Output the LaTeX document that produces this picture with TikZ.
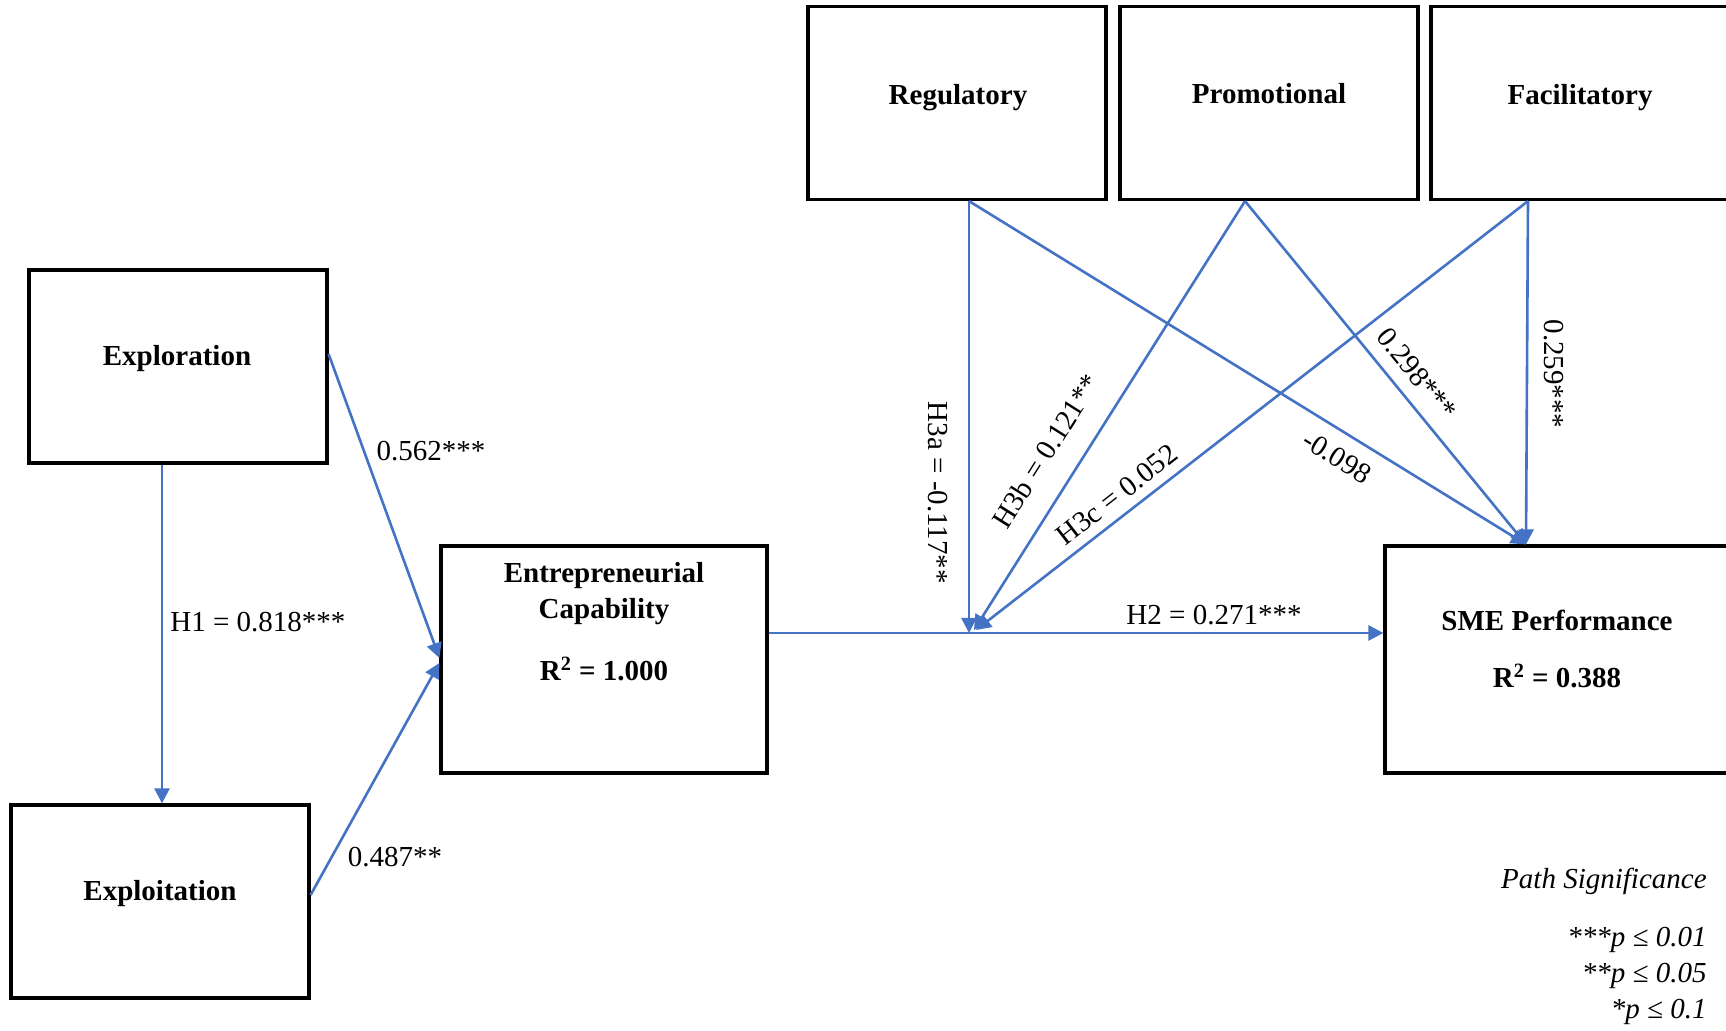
\documentclass[tikz,border=0pt]{standalone}
\usepackage{fontspec}
\setmainfont{Liberation Serif}
\usetikzlibrary{arrows.meta,calc}
\definecolor{pathblue}{HTML}{4472C4}
\begin{document}
\begin{tikzpicture}[x=0.5pt,y=-0.5pt,
  box/.style={draw=black,line width=1.6pt,rectangle,inner sep=0pt,minimum width=149pt,minimum height=96.5pt},
  boxtext/.style={font=\fontsize{14.5}{18}\selectfont\bfseries,align=center,inner sep=0pt},
  link/.style={draw=pathblue,line width=1.3pt,-{Triangle[length=7.5pt,width=7.5pt]}},
  coef/.style={font=\fontsize{14.5}{17}\selectfont,inner sep=0pt},
  legend/.style={font=\fontsize{14.5}{17}\selectfont\itshape,inner sep=0pt,anchor=base east}
]
\useasboundingbox (0,0) rectangle (1726,1031);
\clip (0,0) rectangle (1726,1031);

% constructs
\node[box] (expl) at (178,366.5) {};
\node[box] (expt) at (160,901.5) {};
\node[box,minimum width=163pt,minimum height=113.5pt] (ec) at (604,659.5) {};
\node[box,minimum width=172pt,minimum height=113.5pt] (sme) at (1557,659.5) {};
\node[box] (reg) at (957,103) {};
\node[box] (pro) at (1269,103) {};
\node[box] (fac) at (1580,103) {};

\node[boxtext] (explt) at (177,359) {Exploration};
\node[boxtext] (exptt) at (160,894) {Exploitation};
\node[boxtext] (ect) at (604,594) {Entrepreneurial\\Capability};
\node[boxtext] (ecr) at (604,669) {R\textsuperscript{2} = 1.000};
\node[boxtext] (smet) at (1557,620) {SME Performance};
\node[boxtext] (smer) at (1557,676) {R\textsuperscript{2} = 0.388};
\node[boxtext] (regt) at (958,97.5) {Regulatory};
\node[boxtext] (prot) at (1269,94) {Promotional};
\node[boxtext] (fact) at (1580,97.5) {Facilitatory};

% moderation points on the main path
\coordinate (ma) at (969,633);
\coordinate (mb) at (974,630);
\coordinate (mc) at (976,630);
\coordinate (regb) at ($(reg.south)+(12,0)$);
\coordinate (prob) at ($(pro.south)+(-24,0)$);
\coordinate (facb) at ($(fac.south)+(-52,0)$);
\coordinate (smetop) at ($(sme.north)+(-31,0)$);
\coordinate (h1top) at ($(expl.south)+(-16,0)$);

% paths
\draw[link] (h1top) -- (h1top |- expt.north);
\draw[link] ($(expl.east)+(0,-12.5)$) -- ($(ec.west)+(0,-1.5)$);
\draw[link] ($(expt.east)+(0,-6.5)$) -- ($(ec.west)+(0,3.5)$);
\draw[link] (ec.east |- ma) -- (sme.west |- ma);
\draw[link] (regb) -- (ma);
\draw[link] (prob) -- (mb);
\draw[link] (facb) -- (mc);
\draw[link] (regb) -- (smetop);
\draw[link] (prob) -- (smetop);
\draw[link] (facb) -- (smetop);

% coefficients
\node[coef] (c1) at (431,451) {0.562***};
\node[coef] (c2) at (395,857) {0.487**};
\node[coef,anchor=west] (c3) at (170,622) {H1 = 0.818***};
\node[coef] (c4) at (1214,615) {H2 = 0.271***};
\node[coef,rotate=-90] (c5) at (938,493) {H3a = -0.117**};
\node[coef,rotate=57.8] (c6) at (1046,451) {H3b = 0.121**};
\node[coef,rotate=37.9] (c7) at (1117,495) {H3c = 0.052};
\node[coef,rotate=-31.9] (c8) at (1337,457) {-0.098};
\node[coef,rotate=-51] (c9) at (1417,374) {0.298***};
\node[coef,rotate=-90] (c10) at (1554,374) {0.259***};

% significance key
\node[legend] (l1) at (1707,889) {Path Significance};
\node[legend] (l2) at (1707,947) {***p ≤ 0.01};
\node[legend] (l3) at (1707,982) {**p ≤ 0.05};
\node[legend] (l4) at (1707,1018) {*p ≤ 0.1};
\end{tikzpicture}
\end{document}
